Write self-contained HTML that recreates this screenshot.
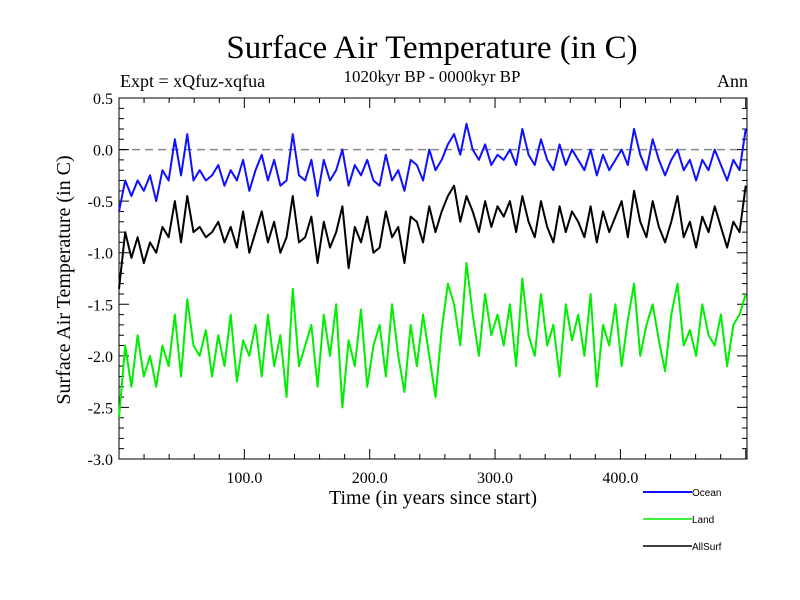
<!DOCTYPE html>
<html><head><meta charset="utf-8"><style>
body{margin:0;background:#fff}
svg{display:block;font-family:"Liberation Serif",serif}
</style></head><body>
<svg id="c" width="800" height="600">
<text x="432" y="58" font-size="33" text-anchor="middle">Surface Air Temperature (in C)</text>
<text x="120" y="87" font-size="18">Expt = xQfuz-xqfua</text>
<text x="432" y="82" font-size="17" text-anchor="middle">1020kyr BP - 0000kyr BP</text>
<text x="748" y="87" font-size="18" text-anchor="end">Ann</text>
<text transform="translate(70,280) rotate(-90)" font-size="20" text-anchor="middle">Surface Air Temperature (in C)</text>
<text x="433" y="504" font-size="20" text-anchor="middle">Time (in years since start)</text>
<g id="axes"></g>
<g id="series"></g>
<g font-family="Liberation Sans,sans-serif" font-size="10">
<line x1="643" y1="492" x2="692" y2="492" stroke="#1010ff" stroke-width="2"/>
<text x="692" y="496">Ocean</text>
<line x1="643" y1="519" x2="692" y2="519" stroke="#00ee00" stroke-width="1.5"/>
<text x="692" y="523">Land</text>
<line x1="643" y1="546" x2="692" y2="546" stroke="#000" stroke-width="1.5"/>
<text x="692" y="550">AllSurf</text>
</g>
</svg>
<script>
const ocean=[-0.6,-0.3,-0.45,-0.3,-0.4,-0.25,-0.5,
-0.2,-0.3,0.1,-0.25,0.15,-0.3,-0.2,
-0.3,-0.25,-0.15,-0.35,-0.2,-0.3,-0.1,-0.4,
-0.2,-0.05,-0.3,-0.1,-0.35,-0.3,0.15,-0.25,
-0.3,-0.1,-0.45,-0.1,-0.3,-0.2,0.0,-0.35,-0.15,-0.25,-0.1,-0.3,
-0.35,-0.05,-0.3,-0.2,-0.4,-0.1,-0.15,-0.3,0.0,-0.2,-0.1,0.05,
0.15,-0.05,0.25,0.0,-0.1,0.05,-0.15,-0.05,
-0.1,0.0,-0.15,0.2,-0.05,-0.15,0.1,-0.1,-0.2,0.05,-0.15,0.0,
-0.1,-0.2,0.0,-0.25,-0.05,-0.2,-0.1,0.0,-0.15,0.2,-0.05,-0.2,
0.1,-0.1,-0.25,-0.1,0.0,-0.2,-0.1,-0.3,-0.1,-0.2,0.0,-0.15,-0.3,-0.1,-0.2,0.2];
const allsurf=[-1.35,-0.8,-1.05,-0.85,-1.1,-0.9,-1.0,
-0.75,-0.85,-0.5,-0.9,-0.45,-0.8,-0.75,
-0.85,-0.8,-0.7,-0.9,-0.75,-0.95,-0.6,-1.0,
-0.8,-0.6,-0.9,-0.7,-1.0,-0.85,-0.45,-0.9,
-0.85,-0.65,-1.1,-0.7,-0.95,-0.8,-0.55,-1.15,-0.75,-0.9,-0.65,-1.0,
-0.95,-0.6,-0.85,-0.75,-1.1,-0.65,-0.7,-0.9,-0.55,-0.8,-0.6,-0.45,
-0.35,-0.7,-0.45,-0.6,-0.8,-0.5,-0.75,-0.55,
-0.65,-0.5,-0.8,-0.45,-0.7,-0.85,-0.5,-0.75,-0.9,-0.55,-0.8,-0.6,
-0.7,-0.85,-0.55,-0.9,-0.6,-0.8,-0.65,-0.5,-0.85,-0.4,-0.7,-0.85,
-0.5,-0.75,-0.9,-0.7,-0.45,-0.85,-0.7,-0.95,-0.65,-0.8,-0.55,-0.75,-0.95,-0.7,-0.8,-0.35];
const land=[-2.6,-1.9,-2.3,-1.8,-2.2,-2.0,-2.3,
-1.9,-2.1,-1.6,-2.2,-1.45,-1.9,-2.0,
-1.75,-2.2,-1.8,-2.1,-1.6,-2.25,-1.85,-2.0,
-1.7,-2.2,-1.6,-2.1,-1.8,-2.4,-1.35,-2.1,
-1.9,-1.7,-2.3,-1.6,-2.0,-1.5,-2.5,-1.85,-2.1,-1.55,-2.3,-1.9,
-1.7,-2.2,-1.5,-2.0,-2.35,-1.7,-2.1,-1.6,-2.0,-2.4,-1.75,-1.3,
-1.5,-1.9,-1.1,-1.6,-2.0,-1.4,-1.8,-1.6,
-1.9,-1.5,-2.1,-1.25,-1.8,-2.0,-1.4,-1.9,-1.7,-2.2,-1.5,-1.85,
-1.6,-2.0,-1.4,-2.3,-1.7,-1.9,-1.5,-2.1,-1.65,-1.3,-2.0,-1.7,
-1.5,-1.85,-2.15,-1.6,-1.3,-1.9,-1.75,-2.0,-1.5,-1.8,-1.9,-1.6,-2.1,-1.7,-1.6,-1.4];
const yTicks=[0.5,0.0,-0.5,-1.0,-1.5,-2.0,-2.5,-3.0];
const xTicks=[100,200,300,400];
const X0=119,X1=747,Y0=98,Y1=459,XMIN=0,XMAX=501,YMIN=-3,YMAX=0.5;
const sx=v=>X0+(v-XMIN)/(XMAX-XMIN)*(X1-X0);
const sy=v=>Y1-(v-YMIN)/(YMAX-YMIN)*(Y1-Y0);
const NS='http://www.w3.org/2000/svg';
const ax=document.getElementById('axes'),sg=document.getElementById('series');
function mk(t,a,p){const e=document.createElementNS(NS,t);for(const k in a)e.setAttribute(k,a[k]);p.appendChild(e);return e;}
const fr=mk('rect',{x:X0,y:Y0,width:X1-X0,height:Y1-Y0,fill:'none',stroke:'#000','stroke-width':1},ax);


const zl=mk('line',{x1:X0,x2:X1,y1:sy(0),y2:sy(0),stroke:'#888','stroke-width':1.5,'stroke-dasharray':'8,5'},ax);


let d='';
for(let v=20;v<XMAX;v+=20){const big=v%100===0,L=big?10:5;
d+=`M${sx(v)},${Y1}v${-L}M${sx(v)},${Y0}v${L}`;}
for(let v=-3;v<=0.5001;v+=0.1){const r=Math.round(v*10);const big=r%5===0,L=big?10:5;
d+=`M${X0},${sy(v)}h${L}M${X1},${sy(v)}h${-L}`;}
const tk=mk('path',{d:d,stroke:'#000','stroke-width':1,fill:'none'},ax);


yTicks.forEach(v=>{const t=mk('text',{x:X0-6,y:sy(v)+6,'font-size':16,'text-anchor':'end'},ax);t.textContent=v.toFixed(1);

});
xTicks.forEach(v=>{const t=mk('text',{x:sx(v),y:Y1+24,'font-size':16,'text-anchor':'middle'},ax);t.textContent=v.toFixed(1);

});
function line(arr,col,w,name){const step=(XMAX-1)/(arr.length-1);
const p=mk('polyline',{points:arr.map((v,i)=>sx(i*step)+','+sy(v)).join(' '),fill:'none',stroke:col,'stroke-width':w,'stroke-linejoin':'round'},sg);

}
line(land,'#00ee00',2,'land-series');
line(allsurf,'#000',2,'allsurf-series');
line(ocean,'#1010ff',2,'ocean-series');
</script>
</body></html>
